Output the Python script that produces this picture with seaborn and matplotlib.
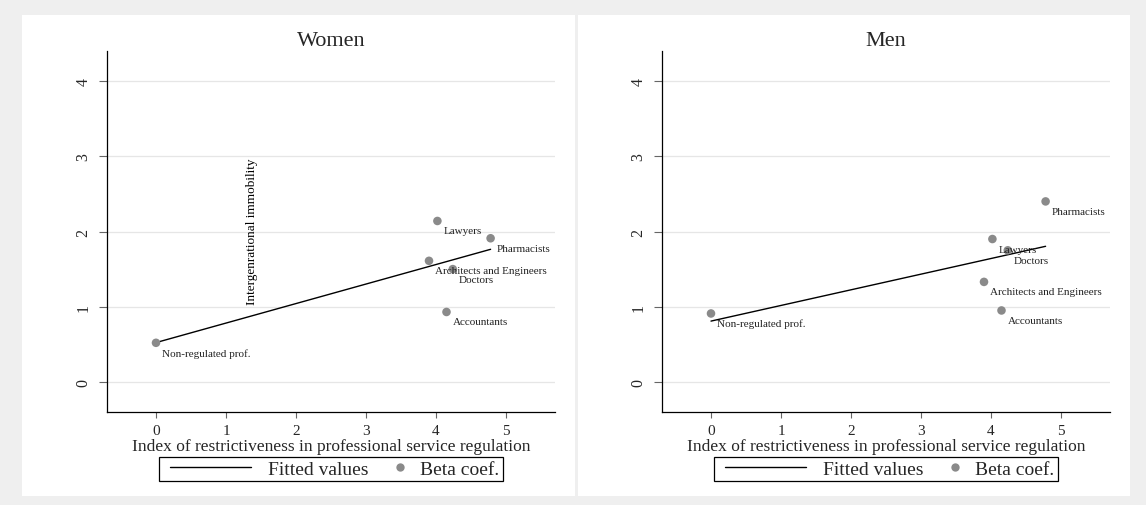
import numpy as np
import pandas as pd
import matplotlib
matplotlib.use("Agg")
import matplotlib.pyplot as plt
from matplotlib.patches import Rectangle
from matplotlib.lines import Line2D
from matplotlib.legend_handler import HandlerLine2D
import seaborn as sns

# Regulation index per profession and the estimated coefficients by sex
professions = ["Non-regulated prof.", "Lawyers", "Pharmacists",
               "Architects and Engineers", "Doctors", "Accountants"]
regulation_index = [0.0, 4.02, 4.78, 3.90, 4.24, 4.15]
beta_women = [0.52, 2.14, 1.91, 1.61, 1.50, 0.93]
beta_men = [0.91, 1.90, 2.40, 1.33, 1.75, 0.95]

panel_titles = ["Women", "Men"]
x_ticks = [0, 1, 2, 3, 4, 5]
y_ticks = [0, 1, 2, 3, 4]
x_label = "Index of restrictiveness in professional service regulation"
y_note = "Intergenrational immobility"
legend_labels = ["Fitted values", "Beta coef."]

sns.set_style("white")
plt.rcParams["font.family"] = ["Liberation Serif", "DejaVu Serif"]

W, H = 1146, 506
BG = "#efefef"
DOT = "#8a8a8a"

fig = plt.figure(figsize=(W / 100, H / 100), dpi=100, facecolor=BG)

# white plot regions of the two graphs
for x0, x1 in [(22, 575), (578, 1130)]:
    fig.add_artist(Rectangle((x0 / W, 1 - 497 / H), (x1 - x0) / W, (497 - 15.5) / H,
                             transform=fig.transFigure, facecolor="white",
                             edgecolor="none", zorder=0))


class PlacedHandler(HandlerLine2D):
    """Line handler whose drawn span can start late or sit at the right end."""

    def __init__(self, left=0.0, right_marker=False, **kw):
        super().__init__(**kw)
        self.left = left
        self.right_marker = right_marker

    def get_xdata(self, legend, xdescent, ydescent, width, height, fontsize):
        x1 = -xdescent + width
        if self.right_marker:
            xd = np.array([x1 - 4.0, x1])
        else:
            xd = np.array([-xdescent + self.left * fontsize, x1])
        return xd, xd[[0]]


def draw_panel(ax, title, values, note=None):
    df = pd.DataFrame({"index": regulation_index, "beta": values, "name": professions})
    sns.regplot(data=df, x="index", y="beta", ax=ax, scatter=False, ci=None,
                truncate=True, line_kws=dict(color="black", lw=1.0, zorder=3))
    sns.scatterplot(data=df, x="index", y="beta", ax=ax, color=DOT, s=38,
                    edgecolor="none", zorder=4)
    for _, r in df.iterrows():
        ax.annotate(r["name"], (r["index"], r["beta"]), xytext=(4.3, -7.2),
                    textcoords="offset points", ha="left", va="center",
                    fontsize=8, color="#222222", zorder=5)
    if note:
        ax.text(1.37, 1.04, note, rotation=90, ha="center", va="bottom",
                fontsize=9.5, color="black")

    ax.set_xlim(-0.7, 5.7)
    ax.set_ylim(-0.4, 4.4)
    ax.set_xticks(x_ticks)
    ax.set_yticks(y_ticks)
    ax.set_facecolor("white")
    ax.grid(axis="y", color="#e6e6e6", lw=0.9)
    ax.grid(axis="x", visible=False)
    ax.set_axisbelow(True)
    for side in ["top", "right"]:
        ax.spines[side].set_visible(False)
    for side in ["left", "bottom"]:
        ax.spines[side].set_color("black")
        ax.spines[side].set_linewidth(0.9)
    ax.tick_params(axis="y", labelrotation=90, length=6, width=0.8, color="#666666",
                   pad=5, labelsize=11.5, left=True)
    ax.tick_params(axis="x", length=4, width=0.8, color="#666666", pad=4.5,
                   labelsize=11, bottom=True)
    for lab in ax.get_yticklabels():
        lab.set_va("center")
    ax.set_ylabel("")
    ax.set_xlabel(x_label, fontsize=12.5, labelpad=1.0)
    ax.set_title(title, fontsize=16, pad=4.5)

    h_line = Line2D([], [], color="black", lw=1.0)
    h_dot = Line2D([], [], ls="", marker="o", color=DOT, ms=6, mec="none")
    ax.legend([h_line, h_dot], legend_labels, loc="upper center",
              bbox_to_anchor=(0.5, -0.124), borderaxespad=0, ncol=2, fontsize=14,
              frameon=True, fancybox=False, edgecolor="black", framealpha=1,
              borderpad=0.18, handlelength=4.53, handletextpad=0.875,
              columnspacing=-2.73,
              handler_map={h_line: PlacedHandler(left=0.365),
                           h_dot: PlacedHandler(right_marker=True)}
              ).get_frame().set_linewidth(0.9)


ax_w = fig.add_axes([107 / W, 93 / H, 448 / W, 361 / H])
ax_m = fig.add_axes([662 / W, 93 / H, 448 / W, 361 / H])
draw_panel(ax_w, panel_titles[0], beta_women, note=y_note)
draw_panel(ax_m, panel_titles[1], beta_men)

fig.savefig("out.png", dpi=100, facecolor=BG)
